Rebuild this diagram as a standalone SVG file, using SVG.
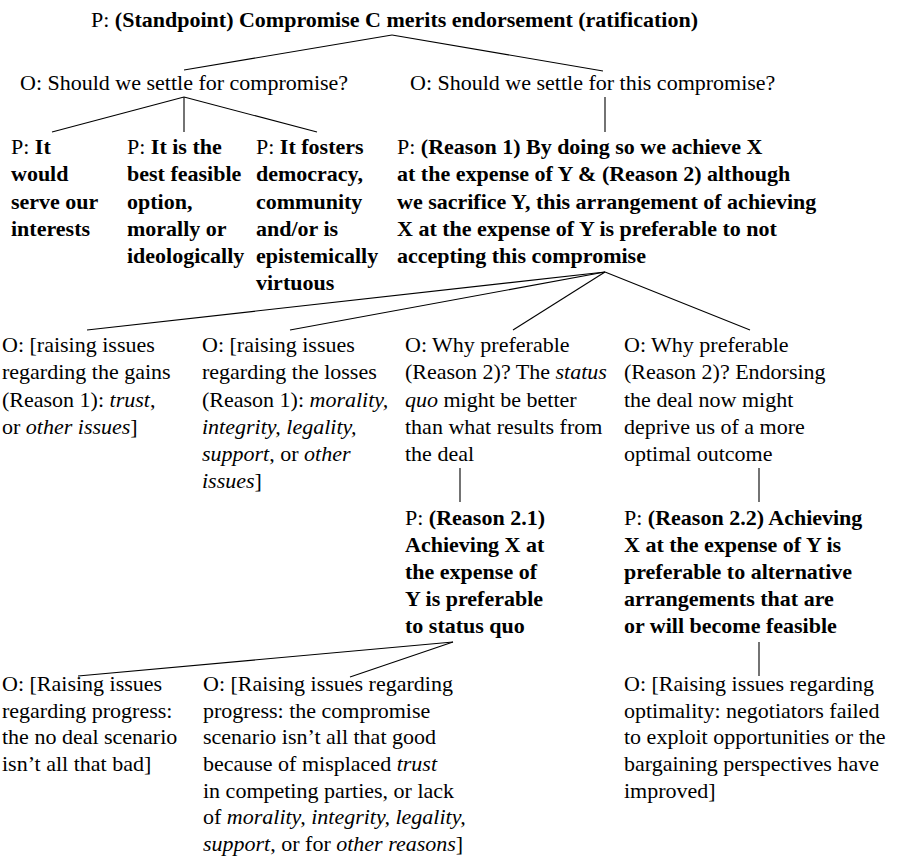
<svg xmlns="http://www.w3.org/2000/svg" width="897" height="864" viewBox="0 0 897 864">
<style>
text{font-family:"Liberation Serif","Times New Roman",serif;font-size:22px;fill:#000}
.b{font-weight:bold}
.i{font-style:italic}
#connectors line{stroke:#000;stroke-width:1.1}
</style>
<rect width="897" height="864" fill="#fff"/>
<g id="connectors">
<line x1="392" y1="35" x2="184" y2="70"/>
<line x1="392" y1="35" x2="603" y2="71"/>
<line x1="184" y1="97" x2="52" y2="132"/>
<line x1="184" y1="97" x2="184" y2="132"/>
<line x1="184" y1="97" x2="317" y2="132"/>
<line x1="605" y1="97" x2="605" y2="132"/>
<line x1="605" y1="272" x2="87" y2="330"/>
<line x1="605" y1="272" x2="290" y2="330"/>
<line x1="605" y1="272" x2="513" y2="330"/>
<line x1="605" y1="272" x2="750" y2="330"/>
<line x1="460" y1="468" x2="460" y2="502"/>
<line x1="759" y1="468" x2="759" y2="502"/>
<line x1="453" y1="642" x2="78" y2="676"/>
<line x1="453" y1="642" x2="350" y2="677"/>
<line x1="759" y1="642" x2="759" y2="676"/>
</g>
<g id="standpoint"><text x="91" y="27">P: <tspan class="b">(Standpoint) Compromise C merits endorsement (ratification)</tspan></text></g>
<g id="o-compromise"><text x="20" y="90">O: Should we settle for compromise?</text></g>
<g id="o-this-compromise"><text x="410" y="90">O: Should we settle for this compromise?</text></g>
<g id="p-interests"><text>
<tspan x="11" y="154">P: <tspan class="b">It</tspan></tspan>
<tspan x="11" y="181" class="b">would</tspan>
<tspan x="11" y="208.5" class="b">serve our</tspan>
<tspan x="11" y="236" class="b">interests</tspan>
</text></g>
<g id="p-feasible"><text>
<tspan x="127" y="154">P: <tspan class="b">It is the</tspan></tspan>
<tspan x="127" y="181" class="b">best feasible</tspan>
<tspan x="127" y="208.5" class="b">option,</tspan>
<tspan x="127" y="236" class="b">morally or</tspan>
<tspan x="127" y="263" class="b">ideologically</tspan>
</text></g>
<g id="p-democracy"><text>
<tspan x="256" y="154">P: <tspan class="b">It fosters</tspan></tspan>
<tspan x="256" y="181" class="b">democracy,</tspan>
<tspan x="256" y="208.5" class="b">community</tspan>
<tspan x="256" y="236" class="b">and/or is</tspan>
<tspan x="256" y="263" class="b">epistemically</tspan>
<tspan x="256" y="290" class="b">virtuous</tspan>
</text></g>
<g id="p-reason1"><text>
<tspan x="397" y="154">P: <tspan class="b">(Reason 1) By doing so we achieve X</tspan></tspan>
<tspan x="397" y="181" class="b">at the expense of Y &amp; (Reason 2) although</tspan>
<tspan x="397" y="208.5" class="b">we sacrifice Y, this arrangement of achieving</tspan>
<tspan x="397" y="236" class="b">X at the expense of Y is preferable to not</tspan>
<tspan x="397" y="263" class="b">accepting this compromise</tspan>
</text></g>
<g id="o-gains"><text>
<tspan x="2" y="352">O: [raising issues</tspan>
<tspan x="2" y="379">regarding the gains</tspan>
<tspan x="2" y="406.5">(Reason 1): <tspan class="i">trust</tspan>,</tspan>
<tspan x="2" y="434">or <tspan class="i">other issues</tspan>]</tspan>
</text></g>
<g id="o-losses"><text>
<tspan x="202" y="352">O: [raising issues</tspan>
<tspan x="202" y="379">regarding the losses</tspan>
<tspan x="202" y="406.5">(Reason 1): <tspan class="i">morality,</tspan></tspan>
<tspan x="202" y="434" class="i">integrity, legality,</tspan>
<tspan x="202" y="461"><tspan class="i">support</tspan>, or <tspan class="i">other</tspan></tspan>
<tspan x="202" y="488"><tspan class="i">issues</tspan>]</tspan>
</text></g>
<g id="o-status-quo"><text>
<tspan x="405" y="352">O: Why preferable</tspan>
<tspan x="405" y="379">(Reason 2)? The <tspan class="i">status</tspan></tspan>
<tspan x="405" y="406.5"><tspan class="i">quo</tspan> might be better</tspan>
<tspan x="405" y="434">than what results from</tspan>
<tspan x="405" y="461">the deal</tspan>
</text></g>
<g id="o-optimal"><text>
<tspan x="624" y="352">O: Why preferable</tspan>
<tspan x="624" y="379">(Reason 2)? Endorsing</tspan>
<tspan x="624" y="406.5">the deal now might</tspan>
<tspan x="624" y="434">deprive us of a more</tspan>
<tspan x="624" y="461">optimal outcome</tspan>
</text></g>
<g id="p-reason21"><text>
<tspan x="405" y="525">P: <tspan class="b">(Reason 2.1)</tspan></tspan>
<tspan x="405" y="552" class="b">Achieving X at</tspan>
<tspan x="405" y="579" class="b">the expense of</tspan>
<tspan x="405" y="606" class="b">Y is preferable</tspan>
<tspan x="405" y="633" class="b">to status quo</tspan>
</text></g>
<g id="p-reason22"><text>
<tspan x="624" y="525">P: <tspan class="b">(Reason 2.2) Achieving</tspan></tspan>
<tspan x="624" y="552" class="b">X at the expense of Y is</tspan>
<tspan x="624" y="579" class="b">preferable to alternative</tspan>
<tspan x="624" y="606" class="b">arrangements that are</tspan>
<tspan x="624" y="633" class="b">or will become feasible</tspan>
</text></g>
<g id="o-no-deal"><text>
<tspan x="2" y="691">O: [Raising issues</tspan>
<tspan x="2" y="717.5">regarding progress:</tspan>
<tspan x="2" y="744">the no deal scenario</tspan>
<tspan x="2" y="771">isn’t all that bad]</tspan>
</text></g>
<g id="o-compromise-scenario"><text>
<tspan x="203" y="691">O: [Raising issues regarding</tspan>
<tspan x="203" y="717.5">progress: the compromise</tspan>
<tspan x="203" y="744">scenario isn’t all that good</tspan>
<tspan x="203" y="771">because of misplaced <tspan class="i">trust</tspan></tspan>
<tspan x="203" y="797.5">in competing parties, or lack</tspan>
<tspan x="203" y="824">of <tspan class="i">morality, integrity, legality,</tspan></tspan>
<tspan x="203" y="851"><tspan class="i">support</tspan>, or for <tspan class="i">other reasons</tspan>]</tspan>
</text></g>
<g id="o-optimality"><text>
<tspan x="624" y="691">O: [Raising issues regarding</tspan>
<tspan x="624" y="717.5">optimality: negotiators failed</tspan>
<tspan x="624" y="744">to exploit opportunities or the</tspan>
<tspan x="624" y="771">bargaining perspectives have</tspan>
<tspan x="624" y="797.5">improved]</tspan>
</text></g>
</svg>
